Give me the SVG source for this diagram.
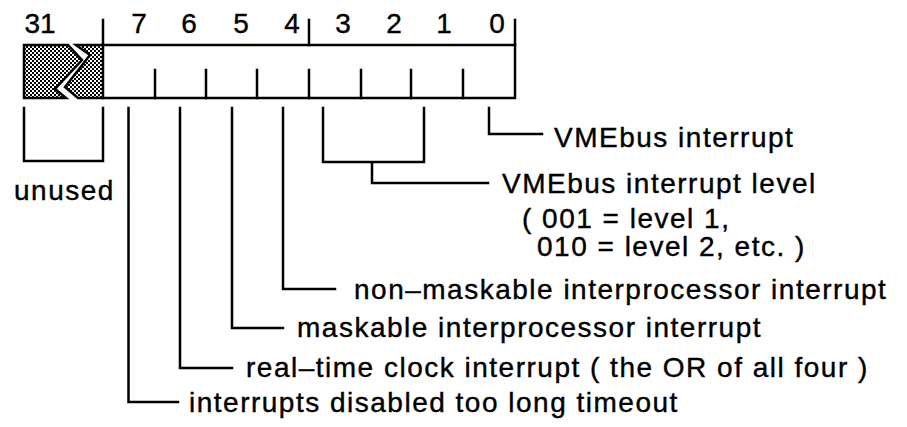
<svg xmlns="http://www.w3.org/2000/svg" width="907" height="427" viewBox="0 0 907 427">
<defs>
<pattern id="dots" width="4" height="4" patternUnits="userSpaceOnUse">
<rect width="4" height="4" fill="#fff"/>
<rect x="0" y="0" width="2" height="2" fill="#000"/>
<rect x="2" y="2" width="2" height="2" fill="#000"/>
</pattern>
<style>
.t{font-family:"Liberation Sans",Arial,Helvetica,sans-serif;font-size:28px;letter-spacing:1.5px;fill:#000;stroke:#000;stroke-width:0.4}
.d{font-family:"Liberation Sans",Arial,Helvetica,sans-serif;font-size:28px;text-anchor:middle;fill:#000;stroke:#000;stroke-width:0.4}
.ln{fill:none;stroke:#000;stroke-width:2.5;stroke-linecap:square;stroke-linejoin:miter}
.gr{fill:url(#dots);stroke:#000;stroke-width:2.5;stroke-linejoin:miter}
</style>
</defs>
<rect width="907" height="427" fill="#fff"/>

<g id="register">
<polygon class="gr" points="24,45 68,45 82,60 55,89 66,98 24,98"/>
<polygon class="gr" points="76,45 103,45 103,98 78,98 65,87 90,55"/>
<path class="ln" d="M103,45 H515 V98 H103"/>
<path class="ln" d="M103,20 V45 M309,20 V45 M515,20 V45"/>
<path class="ln" d="M155,70 V98 M206,70 V98 M257,70 V98 M309,70 V98 M361,70 V98 M411,70 V98 M463,70 V98"/>
</g>

<g id="bit-numbers">
<text class="d" x="40" y="33">31</text>
<text class="d" x="139" y="33">7</text>
<text class="d" x="189" y="33">6</text>
<text class="d" x="241" y="33">5</text>
<text class="d" x="292" y="33">4</text>
<text class="d" x="343" y="33">3</text>
<text class="d" x="394" y="33">2</text>
<text class="d" x="444" y="33">1</text>
<text class="d" x="497" y="33">0</text>
</g>

<g id="connectors">
<path class="ln" d="M24,108 V161 H103 V108"/>
<path class="ln" d="M128.5,108 V402 H178"/>
<path class="ln" d="M180,108 V368 H232"/>
<path class="ln" d="M232,108 V328 H283"/>
<path class="ln" d="M283,108 V289 H335"/>
<path class="ln" d="M323,108 V162 H424 V108 M372,162 V183 H488"/>
<path class="ln" d="M489,108 V134 H542"/>
</g>

<g id="label-unused"><text class="t" x="14" y="200">unused</text></g>
<g id="label-bit0"><text class="t" x="554" y="147">VMEbus interrupt</text></g>
<g id="label-bits3-1">
<text class="t" x="502" y="193">VMEbus interrupt level</text>
<text class="t" x="522" y="228">( 001 = level 1,</text>
<text class="t" x="537" y="256">010 = level 2, etc. )</text>
</g>
<g id="label-bit4"><text class="t" x="354" y="299">non–maskable interprocessor interrupt</text></g>
<g id="label-bit5"><text class="t" x="297" y="337">maskable interprocessor interrupt</text></g>
<g id="label-bit6"><text class="t" x="246" y="377">real–time clock interrupt ( the OR of all four )</text></g>
<g id="label-bit7"><text class="t" x="189" y="412">interrupts disabled too long timeout</text></g>
</svg>
